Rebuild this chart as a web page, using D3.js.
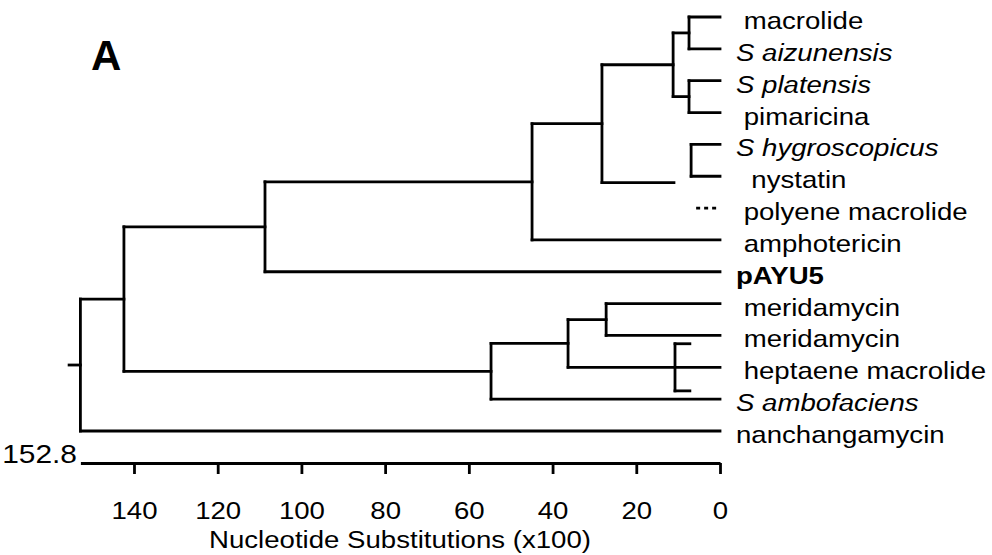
<!DOCTYPE html>
<html>
<head>
<meta charset="utf-8">
<script src="https://cdn.jsdelivr.net/npm/d3@7"></script>
<style>
  body { margin: 0; background: #fff; }
  text { font-family: Arial, "Liberation Sans", sans-serif; fill: #000; white-space: pre; }
</style>
</head>
<body>
<svg id="chart" width="992" height="555"></svg>
<script>
// leaf labels, top to bottom
const leafNames = [" macrolide", "S aizunensis", "S platensis", " pimaricina", "S hygroscopicus", "  nystatin",
                   " polyene macrolide", " amphotericin", "pAYU5", " meridamycin", " meridamycin",
                   " heptaene macrolide", "S ambofaciens", "nanchangamycin"];
const speciesNames = ["S aizunensis", "S platensis", "S hygroscopicus", "S ambofaciens"];
const queryName = "pAYU5";

// axis
const axisMax = 152.8;
const tickValues = [0, 20, 40, 60, 80, 100, 120, 140];
const axisTitle = "Nucleotide Substitutions (x100)";

// tree: node heights in substitutions (x100), leaves by row index
const tree = {at: 152.8, kids: [
  {at: 142.4, kids: [
    {at: 108.7, kids: [
      {at: 44.9, kids: [
        {at: 28.2, kids: [
          {at: 11.2, kids: [
            {at: 7.4, kids: [{leaf: 0}, {leaf: 1}]},
            {at: 7.4, kids: [{leaf: 2}, {leaf: 3}]}]},
          {stub: 11.0, row: 5.2}]},
        {leaf: 7}]},
      {leaf: 8}]},
    {at: 54.7, kids: [
      {at: 36.3, kids: [
        {at: 27.2, kids: [{leaf: 9}, {leaf: 10}]},
        {leaf: 11}]},
      {leaf: 12}]}]},
  {leaf: 13}]};
const rootStub = 155.5;

// loose brackets drawn beside the tree
const brackets = [
  {at: 6.9, end: 0, rows: [4, 5]},
  {at: 10.75, end: 7.2, rows: [10.26, 11.74]}
];
const dottedLeaf = {row: 6, from: 5.7, to: 0.5};

const svg = d3.select("#chart");
const x = d3.scaleLinear().domain([0, axisMax]).range([720, 80.4]);
const y = d3.scaleLinear().domain([0, leafNames.length - 1]).range([17, 431]);
const stretch = "scale(1.15,1)";
const lineW = 2.8;

// lay out tree
const segs = [];
function layout(node) {
  if (node.leaf !== undefined) return {y: y(node.leaf), end: 0};
  if (node.stub !== undefined) return {y: y(node.row), end: node.stub};
  const kids = node.kids.map(k => {
    const r = layout(k);
    segs.push([x(node.at), r.y, x(r.end), r.y]);
    return r;
  });
  const ys = kids.map(k => k.y);
  segs.push([x(node.at), d3.min(ys), x(node.at), d3.max(ys)]);
  return {y: (d3.min(ys) + d3.max(ys)) / 2, end: node.at};
}
const root = layout(tree);
segs.push([x(rootStub), root.y, x(tree.at), root.y]);

brackets.forEach(b => {
  segs.push([x(b.at), y(b.rows[0]), x(b.at), y(b.rows[1])]);
  b.rows.forEach(r => segs.push([x(b.at), y(r), x(b.end), y(r)]));
});

svg.append("g").selectAll("line")
  .data(segs)
  .join("line")
  .attr("x1", d => d[0]).attr("y1", d => d[1])
  .attr("x2", d => d[2]).attr("y2", d => d[3])
  .attr("stroke", "#000")
  .attr("stroke-width", lineW)
  .attr("stroke-linecap", "square");

svg.append("line")
  .attr("x1", x(dottedLeaf.from)).attr("x2", x(dottedLeaf.to))
  .attr("y1", y(dottedLeaf.row)).attr("y2", y(dottedLeaf.row))
  .attr("stroke", "#000")
  .attr("stroke-width", lineW)
  .attr("stroke-dasharray", "4,4");

// leaf labels
svg.append("g").selectAll("text")
  .data(leafNames)
  .join("text")
  .attr("transform", (d, i) => `translate(736,${y(i) + 12}) ${stretch}`)
  .style("font-size", "24px")
  .style("font-style", d => speciesNames.includes(d) ? "italic" : "normal")
  .style("font-weight", d => d === queryName ? "bold" : "normal")
  .text(d => d);

// axis
const axisY = 463;
const axis = d3.axisBottom(x).tickValues(tickValues).tickSize(11).tickSizeOuter(0).tickPadding(28).tickFormat(d3.format("d"));
const gx = svg.append("g")
  .attr("transform", `translate(0,${axisY})`)
  .call(axis);
gx.select(".domain").attr("stroke", "#000").attr("stroke-width", lineW);
gx.selectAll(".tick line").attr("stroke", "#000").attr("stroke-width", lineW);
gx.selectAll(".tick text")
  .attr("fill", "#000")
  .attr("transform", stretch)
  .style("font-size", "24px")
  .attr("font-family", null);

svg.append("text")
  .attr("transform", `translate(77,${axisY}) ${stretch}`)
  .attr("text-anchor", "end")
  .style("font-size", "26px")
  .text(axisMax.toFixed(1));

svg.append("text")
  .attr("transform", `translate(400,548) ${stretch}`)
  .attr("text-anchor", "middle")
  .style("font-size", "24px")
  .text(axisTitle);

// panel letter
svg.append("text")
  .attr("x", 91).attr("y", 70)
  .style("font-size", "42px")
  .style("font-weight", "bold")
  .text("A");
</script>
</body>
</html>
